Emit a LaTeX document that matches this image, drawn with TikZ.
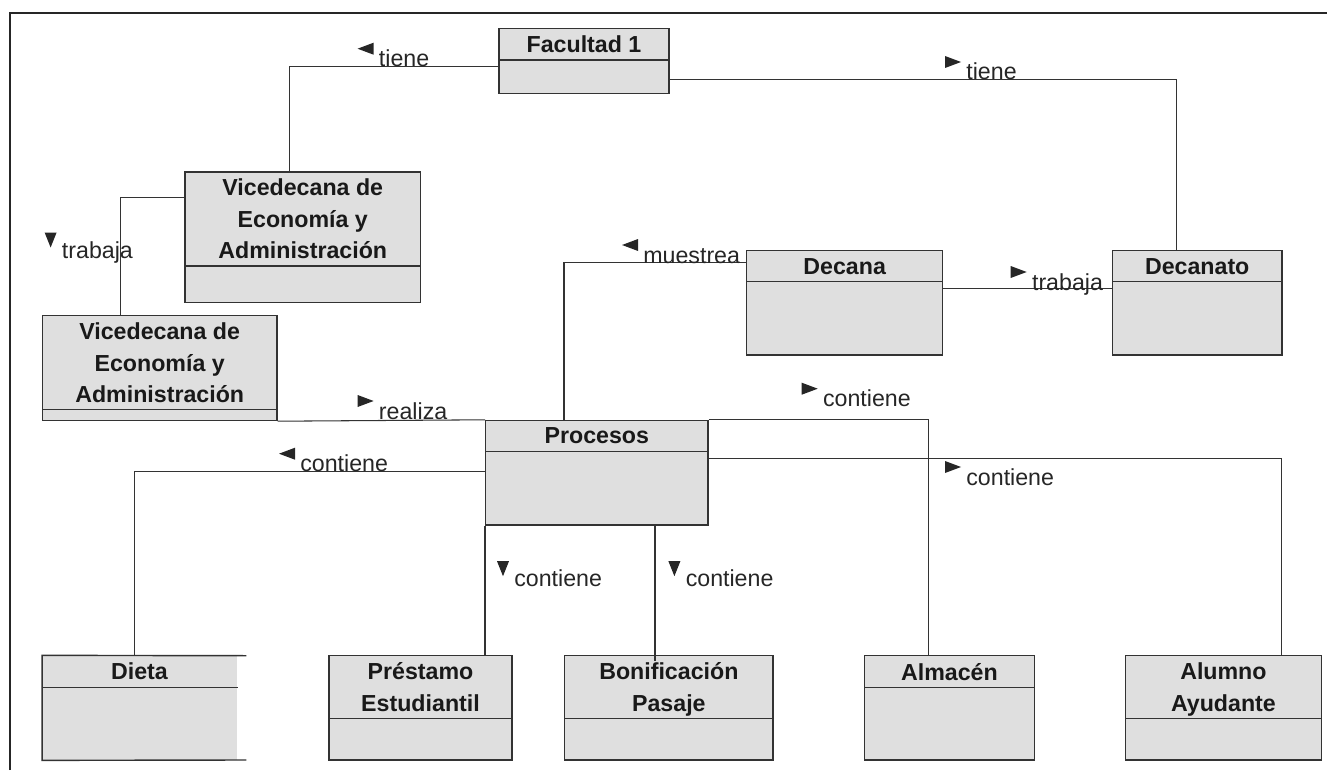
\documentclass[tikz,border=0pt]{standalone}
\usepackage{fontspec}
\setmainfont{Liberation Sans}
\usepackage{tikz}
\usetikzlibrary{calc, fit}

% caja de clase: nombre, x1, y1, x2, y2, linea divisoria, titulo
\newcommand{\clase}[7]{%
  \node (#1) [caja, fit={(#2,#3) (#4,#5)}] {};
  \draw[borde] (#2,#6) -- (#4,#6);
  \node [titulo] at ({(#2+#4)/2},{(#3+#6)/2}) {#7};
}
% triangulos de los roles
\newcommand{\der}[1]{\fill[black!85] ($(#1.base west)+(-21,-24)$) -- ++(16,6) -- ++(-16,6) -- cycle;}
\newcommand{\izq}[1]{\fill[black!85] ($(#1.base west)+(-5,-24)$) -- ++(-16,6) -- ++(16,6) -- cycle;}
\newcommand{\aba}[1]{\fill[black!85] ($(#1.base west)+(-17,-25.5)$) -- ++(12,0) -- ++(-6,15) -- cycle;}

\begin{document}
\begin{tikzpicture}[x=0.02cm, y=-0.02cm,
  caja/.style={draw=black!80, line width=0.8pt, fill=gray!25, inner sep=0pt},
  borde/.style={draw=black!80, line width=0.8pt},
  titulo/.style={font=\bfseries\fontsize{13.2}{17.9}\selectfont, align=center, inner sep=0pt, text depth=0pt, text=black!90},
  etiqueta/.style={font=\fontsize{13.2}{16}\selectfont, anchor=base west, inner sep=0pt, text=black!85},
  linea/.style={draw=black!80, line width=0.6pt}]
\useasboundingbox (0,0) rectangle (1327,770);
% marco
\draw[black!85, line width=1pt] (9.8,770) -- (9.8,12.7) -- (1327,12.7);

% clases
\clase{fac}{499}{28.3}{669}{93.7}{60}{Facultad 1}
\clase{vice1}{185}{172}{420.5}{302.7}{266}{Vicedecana de\\Economía y\\Administración}
\clase{vice2}{42.4}{315.7}{277}{420.5}{409.7}{Vicedecana de\\Economía y\\Administración}
\clase{decana}{746.7}{250.7}{942.7}{355}{281.7}{Decana}
\clase{decanato}{1112.4}{250.7}{1282}{355}{281.7}{Decanato}
\clase{procesos}{485.7}{420.5}{708}{525}{451.5}{Procesos}
\clase{prestamo}{329}{655.7}{512}{760}{718.3}{Préstamo\\Estudiantil}
\clase{bonif}{564.7}{655.7}{773}{760}{718.3}{Bonificación\\Pasaje}
\clase{almacen}{864.6}{655.7}{1034.3}{760}{687.3}{Almacén}
\clase{alumno}{1125.4}{655.7}{1321.4}{760}{718.3}{Alumno\\Ayudante}
% Dieta sin borde derecho
\node (dieta) [fill=gray!25, inner sep=0pt, fit={(42.4,655.7) (236.6,760)}] {};
\draw[borde] (246.4,655.7) -- (dieta.north west) -- (dieta.south west) -- (246.4,760);
\draw[borde] (42.4,687.3) -- (238,687.3);
\node [titulo] at (139.5,671.5) {Dieta};

% asociaciones
\draw[linea] ($(fac.north west)+(0,39)$) -| ($(vice1.north west)+(105,0)$);
\draw[linea] ($(fac.north east)+(0,52)$) -| ($(decanato.north west)+(65,0)$);
\draw[linea] ($(vice1.north west)+(0,26)$) -| ($(vice2.north west)+(79,0)$);
\draw[linea] ($(decana.north east)+(0,38.6)$) -- ($(decanato.north west)+(0,38.6)$);
\draw[linea] ($(decana.north west)+(0,12.6)$) -| ($(procesos.north west)+(79,0)$);
\draw[linea] (vice2.south east) -- (procesos.north west);
\draw[linea] (procesos.north east) -| ($(almacen.north west)+(65,0)$);
\draw[linea] ($(procesos.north east)+(0,39)$) -| ($(alumno.north west)+(157,0)$);
\draw[linea] ($(procesos.north west)+(0,52)$) -| ($(dieta.north west)+(92,0)$);
\draw[linea] (procesos.south west) -- (procesos.south west |- prestamo.north);
\draw[linea] ($(procesos.south west)+(170,0)$) -- ($(procesos.south west)+(170,135.2)$);

% roles
\node (r1) [etiqueta] at (378.6,66.7) {tiene}; \izq{r1}
\node (r2) [etiqueta] at (966,80) {tiene}; \der{r2}
\node (r3) [etiqueta] at (61.6,258) {trabaja}; \aba{r3}
\node (r4) [etiqueta] at (1031.7,290) {trabaja}; \der{r4}
\node (r5) [etiqueta] at (643,263) {muestrea}; \izq{r5}
\node (r6) [etiqueta] at (378.6,419) {realiza}; \der{r6}
\node (r7) [etiqueta] at (822.7,406.7) {contiene}; \der{r7}
\node (r8) [etiqueta] at (966,485) {contiene}; \der{r8}
\node (r9) [etiqueta] at (300,471.7) {contiene}; \izq{r9}
\node (r10) [etiqueta] at (514,586.7) {contiene}; \aba{r10}
\node (r11) [etiqueta] at (685.4,586.7) {contiene}; \aba{r11}
\end{tikzpicture}
\end{document}
